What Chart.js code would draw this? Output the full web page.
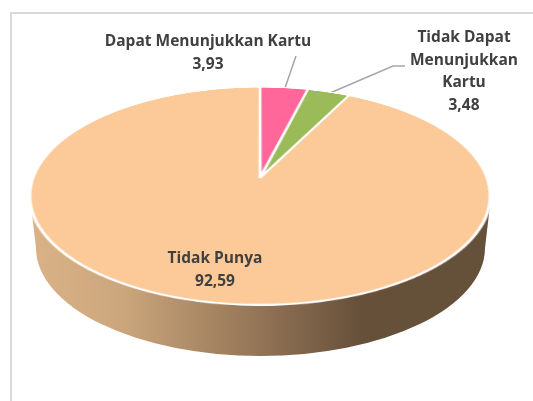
<!DOCTYPE html>
<html>
<head>
<meta charset="utf-8">
<script src="https://cdn.jsdelivr.net/npm/chart.js@4"></script>
<style>
  html, body { margin: 0; padding: 0; background: #fff; }
  #stage { position: relative; width: 533px; height: 401px; overflow: hidden; }
  #frame { position: absolute; left: 10px; top: 12px; width: 540px; height: 420px; border: 2px solid #d9d9d9; }
  #wall, #pie { position: absolute; left: 0; top: 0; }
  #pie { transform-origin: 0 0; }
  .label {
    position: absolute; transform: translateX(-50%); text-align: center; white-space: nowrap;
    font: bold 15.5px/22.7px "Open Sans", sans-serif; color: #404040;
  }
</style>
</head>
<body>
<div id="stage">
  <div id="frame"></div>
  <canvas id="wall" width="533" height="401"></canvas>
  <canvas id="pie" width="380" height="380"></canvas>
  <div id="lab0" class="label" style="left:208px;top:29px"></div>
  <div id="lab1" class="label" style="left:464px;top:25px"></div>
  <div id="lab2" class="label" style="left:215px;top:246px"></div>
</div>
<script>
// Data
const categories = ["Dapat Menunjukkan Kartu", "Tidak Dapat Menunjukkan Kartu", "Tidak Punya"];
const labelLines = [["Dapat Menunjukkan Kartu"], ["Tidak Dapat", "Menunjukkan", "Kartu"], ["Tidak Punya"]];
const values = [3.93, 3.48, 92.59];
const colors = ["#ff6699", "#9bbb59", "#fcc998"];

// Side of the pie and the leader lines go on a plain canvas behind the chart
const wallCtx = document.getElementById("wall").getContext("2d");
const grad = wallCtx.createLinearGradient(31, 0, 490, 0);
grad.addColorStop(0, "#dbb288");
grad.addColorStop(0.2, "#cba67c");
grad.addColorStop(0.45, "#9c7c5c");
grad.addColorStop(0.72, "#66503a");
grad.addColorStop(1, "#65503a");
wallCtx.fillStyle = grad;
wallCtx.beginPath();
wallCtx.moveTo(31, 205);
wallCtx.lineTo(36, 248);
wallCtx.ellipse(260.5, 248, 224.5, 108, 0, Math.PI, 0, true);
wallCtx.lineTo(490, 205);
wallCtx.closePath();
wallCtx.fill();

wallCtx.strokeStyle = "#a6a6a6";
wallCtx.lineWidth = 1.5;
wallCtx.beginPath();
wallCtx.moveTo(296, 56);
wallCtx.lineTo(285, 88);
wallCtx.moveTo(330, 93);
wallCtx.lineTo(393, 66);
wallCtx.lineTo(405, 66);
wallCtx.stroke();

const chart = new Chart(document.getElementById("pie"), {
    type: "pie",
    data: {
        labels: categories,
        datasets: [{
            data: values,
            backgroundColor: colors,
            borderColor: "#ffffff",
            borderWidth: 2.5
        }]
    },
    options: {
        responsive: false,
        animation: false,
        devicePixelRatio: 2,
        layout: { padding: 0 },
        plugins: { legend: { display: false }, tooltip: { enabled: false } }
    }
});

// Excel's 3D tilt: project the flat pie so its centre lands at (260,178)
const arc = chart.getDatasetMeta(0).data[0];
const r = arc.outerRadius, cx = arc.x, cy = arc.y;
const p = -0.165, b = 76.6, R = 227, ax = 260, ay = 178;
const w0 = 1 - p * cy / r;
document.getElementById("pie").style.transform = "matrix3d(" + [
    R / r, 0, 0, 0,
    ax * p / r, b / r, 0, p / r,
    0, 0, 1, 0,
    ax * w0 - R * cx / r, ay - b * cy / r, 0, w0
].join(",") + ")";

// Data labels
labelLines.forEach(function (lines, i) {
    const el = document.getElementById("lab" + i);
    lines.concat(values[i].toFixed(2).replace(".", ",")).forEach(function (t) {
        const line = document.createElement("div");
        line.textContent = t;
        el.appendChild(line);
    });
});
</script>
</body>
</html>
